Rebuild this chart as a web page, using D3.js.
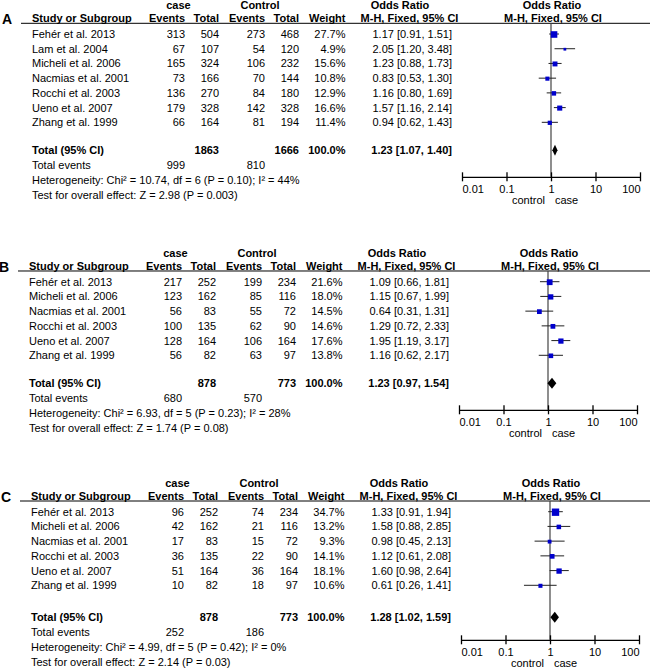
<!DOCTYPE html>
<html><head><meta charset="utf-8">
<script src="https://cdn.jsdelivr.net/npm/d3@7"></script>
<style>body{margin:0;background:#fff}svg{display:block}</style>
</head><body>
<script>
// ---------- DATA ----------
const panelLabels = ["A", "B", "C"];
const tickValues = [0.01, 0.1, 1, 10, 100];
const tickLabels = ["0.01", "0.1", "1", "10", "100"];

const studiesA = ["Fehér et al.  2013","Lam et al. 2004","Micheli et al. 2006","Nacmias et al. 2001","Rocchi et al. 2003","Ueno et al. 2007","Zhang et al. 1999"];
const caseEventsA = [313, 67, 165, 73, 136, 179, 66];
const caseTotalA  = [504, 107, 324, 166, 270, 328, 164];
const ctrlEventsA = [273, 54, 106, 70, 84, 142, 81];
const ctrlTotalA  = [468, 120, 232, 144, 180, 328, 194];
const weightA = [27.7, 4.9, 15.6, 10.8, 12.9, 16.6, 11.4];
const orA   = [1.17, 2.05, 1.23, 0.83, 1.16, 1.57, 0.94];
const lowA  = [0.91, 1.20, 0.88, 0.53, 0.80, 1.16, 0.62];
const highA = [1.51, 3.48, 1.73, 1.30, 1.69, 2.14, 1.43];
const totalA = {caseTotal: 1863, ctrlTotal: 1666, caseEvents: 999, ctrlEvents: 810, or: 1.23, low: 1.07, high: 1.40,
  het: "Heterogeneity: Chi² = 10.74, df = 6 (P = 0.10); I² = 44%", test: "Test for overall effect: Z = 2.98 (P = 0.003)"};

const studiesB = ["Fehér et al.  2013","Micheli et al. 2006","Nacmias et al. 2001","Rocchi et al. 2003","Ueno et al. 2007","Zhang et al. 1999"];
const caseEventsB = [217, 123, 56, 100, 128, 56];
const caseTotalB  = [252, 162, 83, 135, 164, 82];
const ctrlEventsB = [199, 85, 55, 62, 106, 63];
const ctrlTotalB  = [234, 116, 72, 90, 164, 97];
const weightB = [21.6, 18.0, 14.5, 14.6, 17.6, 13.8];
const orB   = [1.09, 1.15, 0.64, 1.29, 1.95, 1.16];
const lowB  = [0.66, 0.67, 0.31, 0.72, 1.19, 0.62];
const highB = [1.81, 1.99, 1.31, 2.33, 3.17, 2.17];
const totalB = {caseTotal: 878, ctrlTotal: 773, caseEvents: 680, ctrlEvents: 570, or: 1.23, low: 0.97, high: 1.54,
  het: "Heterogeneity: Chi² = 6.93, df = 5 (P = 0.23); I² = 28%", test: "Test for overall effect: Z = 1.74 (P = 0.08)"};

const studiesC = ["Fehér et al.  2013","Micheli et al. 2006","Nacmias et al. 2001","Rocchi et al. 2003","Ueno et al. 2007","Zhang et al. 1999"];
const caseEventsC = [96, 42, 17, 36, 51, 10];
const caseTotalC  = [252, 162, 83, 135, 164, 82];
const ctrlEventsC = [74, 21, 15, 22, 36, 18];
const ctrlTotalC  = [234, 116, 72, 90, 164, 97];
const weightC = [34.7, 13.2, 9.3, 14.1, 18.1, 10.6];
const orC   = [1.33, 1.58, 0.98, 1.12, 1.60, 0.61];
const lowC  = [0.91, 0.88, 0.45, 0.61, 0.98, 0.26];
const highC = [1.94, 2.85, 2.13, 2.08, 2.64, 1.41];
const totalC = {caseTotal: 878, ctrlTotal: 773, caseEvents: 252, ctrlEvents: 186, or: 1.28, low: 1.02, high: 1.59,
  het: "Heterogeneity: Chi² = 4.99, df = 5 (P = 0.42); I² = 0%", test: "Test for overall effect: Z = 2.14 (P = 0.03)"};

// ---------- BUILD ----------
function rows(studies, ce, ct, ke, kt, w, or, lo, hi) {
  return studies.map((s, i) => ({study: s, ce: ce[i], ct: ct[i], ke: ke[i], kt: kt[i], w: w[i], or: or[i], lo: lo[i], hi: hi[i]}));
}
const panels = [
  {label: panelLabels[0], y0: 0,     dx: 0,  gap: 28, rows: rows(studiesA, caseEventsA, caseTotalA, ctrlEventsA, ctrlTotalA, weightA, orA, lowA, highA), total: totalA},
  {label: panelLabels[1], y0: 247.7, dx: -3, gap: 28, rows: rows(studiesB, caseEventsB, caseTotalB, ctrlEventsB, ctrlTotalB, weightB, orB, lowB, highB), total: totalB},
  {label: panelLabels[2], y0: 477.7, dx: -1, gap: 32, rows: rows(studiesC, caseEventsC, caseTotalC, ctrlEventsC, ctrlTotalC, weightC, orC, lowC, highC), total: totalC}
];

const W = 650, H = 669;
const FONT = "'Liberation Sans', Arial, Helvetica, sans-serif";
const svg = d3.select("body").append("svg").attr("width", W).attr("height", H)
  .style("font-family", FONT).style("font-size", "11px");
svg.append("rect").attr("width", W).attr("height", H).attr("fill", "#fff");

const fmt2 = d3.format(".2f"), fmtW = d3.format(".1f");
const ciText = (o, l, h) => `${fmt2(o)} [${fmt2(l)}, ${fmt2(h)}]`;
const STEP = 14.72;
const BL = 4; // baseline offset from visual centre

panels.forEach(p => {
  const g = svg.append("g").attr("transform", `translate(${p.dx},${p.y0})`);
  const col = {study: 32, ce: 185, ct: 219, ke: 265, kt: 299, w: 345.5, or: 452};
  const x = d3.scaleLog().domain([0.01, 100]).range([462, 640]);
  const rowY = d3.scaleLinear().domain([0, 1]).range([34, 34 + STEP]);
  const n = p.rows.length;
  const lastY = rowY(n - 1);
  const totY = lastY + p.gap;
  const axisY = lastY + 54.5;

  const txt = (xx, yy, s, anchor = "start", bold = false) =>
    g.append("text").attr("x", xx).attr("y", yy + BL).attr("text-anchor", anchor)
      .attr("font-weight", bold ? "bold" : null).attr("fill", "#000").text(s);

  // panel label
  g.append("text").attr("x", 2).attr("y", 24).attr("font-size", "14px").attr("font-weight", "bold").text(p.label);

  // header rows
  txt(178.5, 5, "case", "middle", true);
  txt(260, 5, "Control", "middle", true);
  txt(400, 5, "Odds Ratio", "middle", true);
  txt(552, 5, "Odds Ratio", "middle", true);
  const hy = 18;
  txt(col.study, hy, "Study or Subgroup", "start", true);
  txt(col.ce, hy, "Events", "end", true);
  txt(col.ct, hy, "Total", "end", true);
  txt(col.ke, hy, "Events", "end", true);
  txt(col.kt, hy, "Total", "end", true);
  txt(col.w, hy, "Weight", "end", true);
  txt(409.5, hy, "M-H, Fixed, 95% CI", "middle", true);
  txt(553, hy, "M-H, Fixed, 95% CI", "middle", true);
  g.append("line").attr("x1", 21).attr("x2", W - p.dx).attr("y1", 23.3).attr("y2", 23.3)
    .attr("stroke", "#000").attr("stroke-width", 1);

  // study rows
  p.rows.forEach((r, i) => {
    const y = rowY(i);
    txt(col.study, y, r.study);
    txt(col.ce, y, r.ce, "end");
    txt(col.ct, y, r.ct, "end");
    txt(col.ke, y, r.ke, "end");
    txt(col.kt, y, r.kt, "end");
    txt(col.w, y, fmtW(r.w) + "%", "end");
    txt(col.or, y, ciText(r.or, r.lo, r.hi), "end");
  });

  // totals
  const t = p.total;
  txt(col.study, totY, "Total (95% CI)", "start", true);
  txt(col.ct, totY, t.caseTotal, "end", true);
  txt(col.kt, totY, t.ctrlTotal, "end", true);
  txt(col.w, totY, "100.0%", "end", true);
  txt(col.or, totY, ciText(t.or, t.low, t.high), "end", true);
  txt(col.study, totY + 15, "Total events");
  txt(col.ce, totY + 15, t.caseEvents, "end");
  txt(col.ke, totY + 15, t.ctrlEvents, "end");
  txt(col.study, totY + 30, t.het);
  txt(col.study, totY + 45, t.test);

  // forest: null line
  g.append("line").attr("x1", x(1)).attr("x2", x(1)).attr("y1", 23.3).attr("y2", axisY)
    .attr("stroke", "#444").attr("stroke-width", 1.2);

  // CIs + squares
  p.rows.forEach((r, i) => {
    const y = rowY(i);
    g.append("line").attr("x1", x(r.lo)).attr("x2", x(r.hi)).attr("y1", y).attr("y2", y)
      .attr("stroke", "#222").attr("stroke-width", 1);
    const s = Math.max(2.5, 1.25 * Math.sqrt(r.w));
    g.append("rect").attr("x", x(r.or) - s / 2).attr("y", y - s / 2 + 0.5).attr("width", s).attr("height", s)
      .attr("fill", "#0000cc");
  });

  // diamond
  g.append("path").attr("d", d3.line()([[x(t.low), totY], [x(t.or), totY - 5.5], [x(t.high), totY], [x(t.or), totY + 5.5]]) + "Z")
    .attr("fill", "#000");

  // axis
  const axis = d3.axisBottom(x).tickValues(tickValues).tickFormat((d, i) => tickLabels[i]).tickSizeInner(4).tickSizeOuter(0);
  const ag = g.append("g").attr("transform", `translate(0,${axisY})`).call(axis);
  ag.select(".domain").attr("stroke", "#000").attr("stroke-width", 1.3);
  ag.selectAll(".tick line").attr("y1", -4.5).attr("y2", 4.5).attr("stroke", "#000").attr("stroke-width", 1.3);
  ag.selectAll(".tick text").attr("y", 0).attr("dy", 0).attr("transform", "translate(0,16.5)")
    .attr("font-family", FONT).attr("font-size", "11px").attr("fill", "#000")
    .attr("text-anchor", (d, i) => i === 0 ? "start" : (i === tickValues.length - 1 ? "end" : "middle"));
  txt(x(1) - 6, axisY + 23.5, "control", "end");
  txt(x(1) + 4, axisY + 23.5, "case", "start");
});
</script>
</body></html>
